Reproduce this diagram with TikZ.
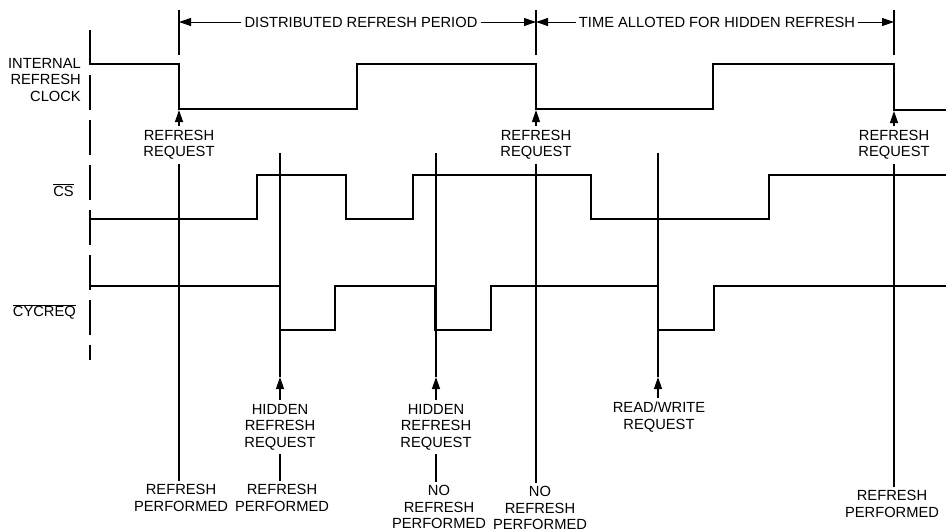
\documentclass[tikz,border=0pt]{standalone}
\usepackage{fontspec}
\setmainfont{Liberation Sans}
\usetikzlibrary{arrows.meta}

\begin{document}
\begin{tikzpicture}[x=1pt, y=-1pt,
    signal/.style={line width=2.3pt, line join=miter},
    guide/.style={line width=1.3pt},
    txt/.style={font=\fontsize{14.7}{16.5}\selectfont, align=center,
    inner sep=4pt},
    signame/.style={txt, anchor=east, align=right, inner sep=0pt},
    uparrow/.style={guide, -{Triangle[length=12pt,width=8pt]}},
    dimarrow/.style={line width=1pt, -{Triangle[length=12pt,width=8pt]}}]
    \useasboundingbox (0,0) rectangle (946,531);

    % signal names and time axis
    \node[signame] (clkname) at (81,80) {INTERNAL\\REFRESH\\CLOCK};
    \node[signame] (csname) at (74,190) {$\overline{\mbox{CS}}$};
    \node[signame] (cycname) at (76,312) {$\overline{\mbox{CYCREQ}}$};
    \draw[guide, dash pattern=on 35pt off 10pt] (90,30) -- (90,360);

    % waveforms
    \draw[signal] (90,64) -| (179,109) -| (357,64) -| (536,109) -| (713,64)
        -| (894,110) -- (946,110);
    \draw[signal] (90,219) -| (257,175) -| (346,219) -| (413,175)
        -| (591,219) -| (769,175) -- (946,175);
    \draw[signal] (90,286) -| (280,330) -| (335,286) -| (435,330)
        -| (491,286) -| (658,330) -| (714,286) -- (946,286);

    % period markers
    \foreach \x/\n in {179/a,536/b,894/c} {
        \draw[guide] (\x,10) -- (\x,55);
        \coordinate (mark\n) at (\x,22);
    }
    \node[txt, inner sep=3pt] (period) at (361,22) {DISTRIBUTED REFRESH PERIOD};
    \node[txt, inner sep=3pt] (allot) at (717,22) {TIME ALLOTED FOR HIDDEN REFRESH};
    \draw[dimarrow] (period.west) -- (marka);
    \draw[dimarrow] (period.east) -- (markb);
    \draw[dimarrow] (allot.west) -- (markb);
    \draw[dimarrow] (allot.east) -- (markc);

    % refresh requests
    \node[txt] (req1) at (179,145) {REFRESH\\REQUEST};
    \node[txt] (req2) at (536,145) {REFRESH\\REQUEST};
    \node[txt] (req3) at (894,145) {REFRESH\\REQUEST};
    \draw[uparrow] (req1.north) -- (179,110);
    \draw[uparrow] (req2.north) -- (536,110);
    \draw[uparrow] (req3.north) -- (894,111);

    % hidden and read/write requests
    \node[txt] (hid1) at (280,427) {HIDDEN\\REFRESH\\REQUEST};
    \node[txt] (hid2) at (436,427) {HIDDEN\\REFRESH\\REQUEST};
    \node[txt] (rw) at (659,417) {READ/WRITE\\REQUEST};
    \foreach \x/\n in {280/hid1,436/hid2,658/rw} {
        \coordinate (\n tip) at (\x,377);
        \draw[guide] (\x,153) -- (\n tip);
        \draw[uparrow] (\n tip |- \n.north) -- (\n tip);
    }

    % results
    \node[txt, inner sep=3pt] (done1) at (181,498) {REFRESH\\PERFORMED};
    \node[txt, inner sep=3pt] (done2) at (282,498) {REFRESH\\PERFORMED};
    \node[txt, inner sep=3pt] (none1) at (439,507) {NO\\REFRESH\\PERFORMED};
    \node[txt, inner sep=3pt] (none2) at (540,508) {NO\\REFRESH\\PERFORMED};
    \node[txt, inner sep=3pt] (done3) at (892,504) {REFRESH\\PERFORMED};
    \draw[guide] (req1.south) -- (req1.south |- done1.north);
    \draw[guide] (hid1.south) -- (hid1.south |- done2.north);
    \draw[guide] (hid2.south) -- (hid2.south |- none1.north);
    \draw[guide] (req2.south) -- (req2.south |- none2.north);
    \draw[guide] (req3.south) -- (req3.south |- done3.north);
\end{tikzpicture}
\end{document}
